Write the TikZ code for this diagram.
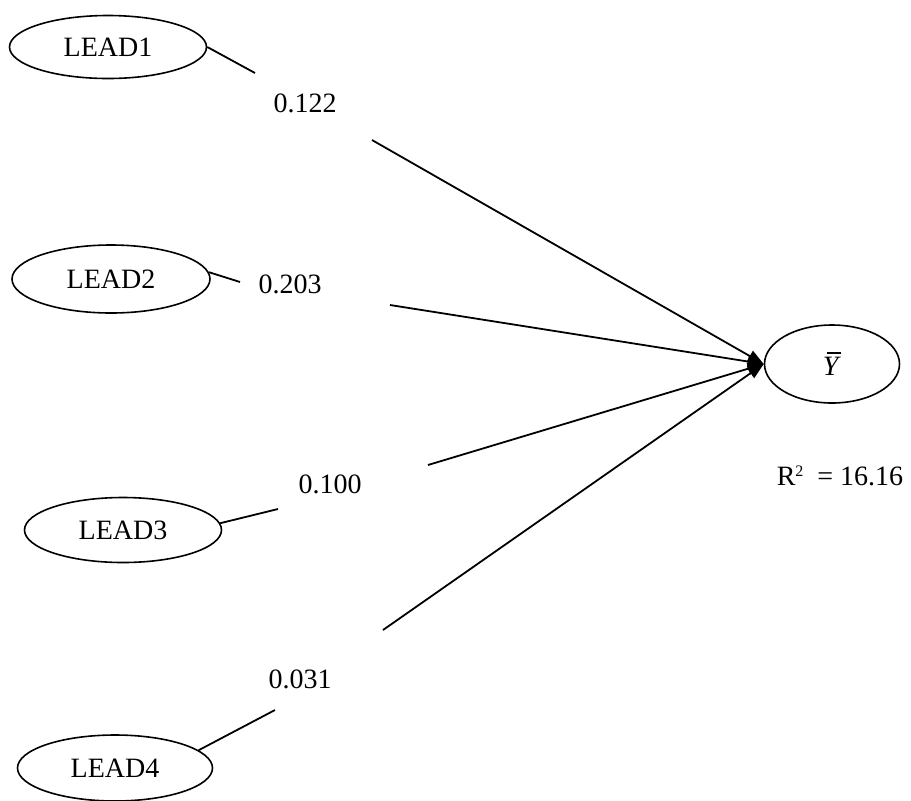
\documentclass[tikz,border=0pt]{standalone}
\usepackage{fontspec}
\setmainfont{Liberation Serif}
\usetikzlibrary{shapes.geometric,arrows.meta}
\begin{document}
\begin{tikzpicture}[x=0.5pt,y=-0.5pt,
  var/.style={draw, ellipse, line width=0.8pt, inner sep=0pt, font=\fontsize{14}{16}\selectfont},
  coef/.style={inner sep=0pt, font=\fontsize{14}{16}\selectfont},
  link/.style={line width=0.9pt},
  effect/.style={line width=0.9pt, -{Triangle[length=8pt,width=6pt]}}]
\useasboundingbox (0,0) rectangle (911,800);
% variables
\node[var, minimum width=98.5pt, minimum height=31.5pt] (L1) at (108,47) {LEAD1};
\node[var, minimum width=99pt, minimum height=34pt] (L2) at (111,279) {LEAD2};
\node[var, minimum width=98.5pt, minimum height=32.5pt] (L3) at (123,530) {LEAD3};
\node[var, minimum width=97.5pt, minimum height=33pt] (L4) at (115,768) {LEAD4};
\node[var, minimum width=67.5pt, minimum height=39pt] (Y) at (832,364)
  {\makebox[0pt][l]{\hspace{0.15em}\raisebox{0.78em}{\rule{0.5em}{0.05em}}}\textit{Y}};
% coefficients
\node[coef] (c1) at (305,103) {0.122};
\node[coef] (c2) at (290,284) {0.203};
\node[coef] (c3) at (330,484) {0.100};
\node[coef] (c4) at (300,679) {0.031};
\node[coef] (r2) at (840,476) {R\raisebox{0.65ex}{\fontsize{8}{9}\selectfont 2}\ \ = 16.16};
% line ends
\coordinate (e1) at (255,73);
\coordinate (e2) at (240,282);
\coordinate (e3) at (278,509);
\coordinate (e4) at (275,710);
\coordinate (s1) at (372,140);
\coordinate (s2) at (390,305);
\coordinate (s3) at (428,465);
\coordinate (s4) at (383,630);
% connectors
\draw[link] (L1.east) -- (e1);
\draw[link] (L2.4) -- (e2);
\draw[link] (L3.4) -- (e3);
\draw[link] (L4.12) -- (e4);
\draw[effect] (s1) -- (Y.west);
\draw[effect] (s2) -- (Y.west);
\draw[effect] (s3) -- (Y.west);
\draw[effect] (s4) -- (Y.west);
\end{tikzpicture}
\end{document}
